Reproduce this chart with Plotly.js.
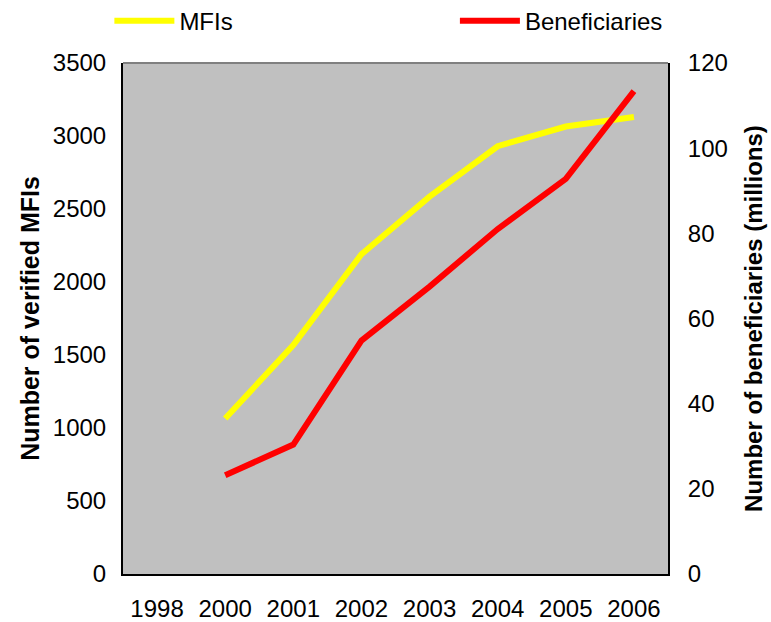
<!DOCTYPE html>
<html>
<head>
<meta charset="utf-8">
<script src="https://cdn.plot.ly/plotly-3.0.1.min.js"></script>
<style>html,body{margin:0;padding:0;background:#fff;}</style>
</head>
<body>
<div id="chart" style="width:771px;height:622px;"></div>
<script>
const categories = ["1998", "2000", "2001", "2002", "2003", "2004", "2005", "2006"];
const mfiYears = ["2000", "2001", "2002", "2003", "2004", "2005", "2006"];
const mfiValues = [1065, 1568, 2190, 2585, 2930, 3065, 3130];
const benYears = ["2000", "2001", "2002", "2003", "2004", "2005", "2006"];
const benValues = [23.2, 30.4, 54.8, 67.5, 81.0, 92.8, 113.4];

const font = "Liberation Sans, Arial, sans-serif";

const data = [
  {x: mfiYears, y: mfiValues, type: "scatter", mode: "lines", name: "MFIs",
   line: {color: "#ffff00", width: 6}, yaxis: "y", legend: "legend"},
  {x: benYears, y: benValues, type: "scatter", mode: "lines", name: "Beneficiaries",
   line: {color: "#ff0000", width: 6}, yaxis: "y2", legend: "legend2"}
];

const layout = {
  width: 771, height: 622,
  margin: {l: 123, r: 103, t: 63, b: 48, autoexpand: false},
  paper_bgcolor: "#ffffff",
  plot_bgcolor: "#c0c0c0",
  font: {family: font, size: 24, color: "#000"},
  showlegend: true,
  legend: {orientation: "h", x: -0.025, y: 1.082, xanchor: "left", yanchor: "middle",
           itemwidth: 60, bgcolor: "rgba(0,0,0,0)", font: {family: font, size: 24}},
  legend2: {orientation: "h", x: 0.609, y: 1.082, xanchor: "left", yanchor: "middle",
            itemwidth: 60, bgcolor: "rgba(0,0,0,0)", font: {family: font, size: 24}},
  xaxis: {
    type: "category", categoryorder: "array", categoryarray: categories,
    tickvals: categories, range: [-0.5, 7.5],
    showgrid: false, zeroline: false, showline: true, linecolor: "#000", linewidth: 2,
    mirror: false, ticks: "", ticklabelstandoff: 12,
    tickfont: {family: font, size: 24}
  },
  yaxis: {
    range: [0, 3500], dtick: 500, tick0: 0,
    showgrid: false, zeroline: false, showline: true, linecolor: "#000", linewidth: 2,
    ticks: "", ticklabelstandoff: 10,
    tickfont: {family: font, size: 24},
    title: {text: "<b>Number of verified MFIs</b>", font: {family: font, size: 25}, standoff: 6}
  },
  yaxis2: {
    range: [0, 120], dtick: 20, tick0: 0, overlaying: "y", side: "right",
    showgrid: false, zeroline: false, showline: true, linecolor: "#000", linewidth: 2,
    ticks: "", ticklabelstandoff: 13,
    tickfont: {family: font, size: 24},
    title: {text: "<b>Number of beneficiaries (millions)</b>", font: {family: font, size: 24}, standoff: 18}
  },
  shapes: [
    {type: "line", xref: "paper", yref: "paper", x0: 0, x1: 1, y0: 1, y1: 1,
     line: {color: "#808080", width: 2}}
  ]
};

Plotly.newPlot("chart", data, layout, {displayModeBar: false, staticPlot: true});
</script>
</body>
</html>
